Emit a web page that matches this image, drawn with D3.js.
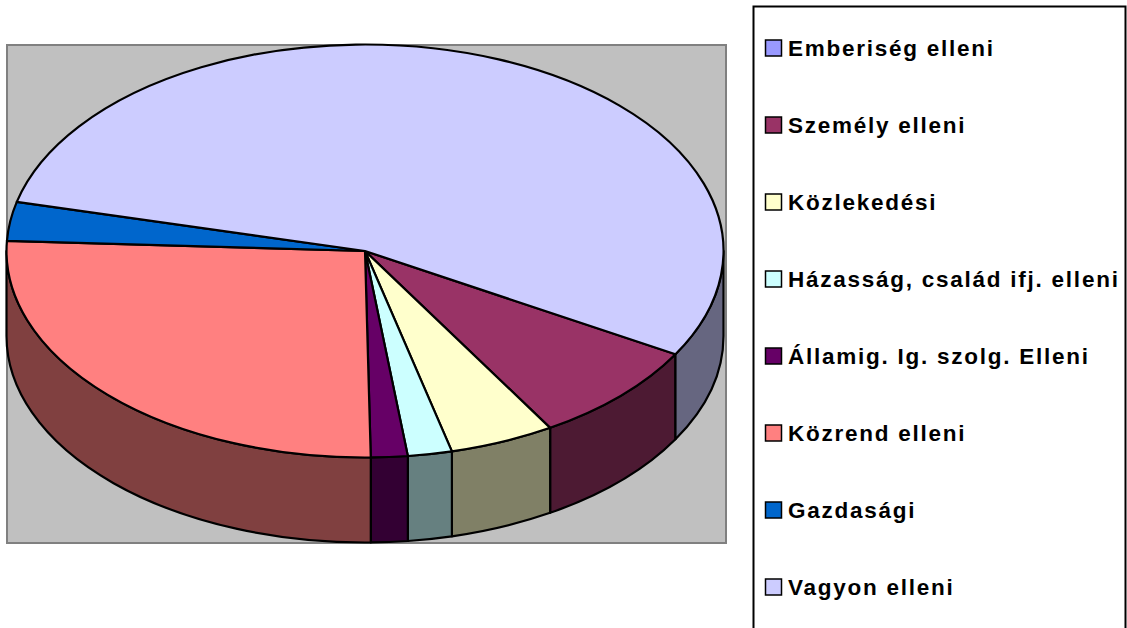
<!DOCTYPE html>
<html>
<head>
<meta charset="utf-8">
<script src="https://cdn.jsdelivr.net/npm/d3@7"></script>
<style>
html, body { margin: 0; padding: 0; background: #fff; overflow: hidden; }
svg { display: block; }
text { font-family: "Liberation Sans", Arial, sans-serif; font-weight: bold; font-size: 22.5px; letter-spacing: 1.75px; }
</style>
</head>
<body>
<script>
const categories = ["Emberiség elleni", "Személy elleni", "Közlekedési", "Házasság, család ifj. elleni",
    "Államig. Ig. szolg. Elleni", "Közrend elleni", "Gazdasági", "Vagyon elleni"];
const values = [0, 8.03, 4.74, 1.99, 1.65, 26.04, 3.04, 54.51];
const colors = ["#9999FF", "#993366", "#FFFFCC", "#CCFFFF", "#660066", "#FF8080", "#0066CC", "#CCCCFF"];

const width = 1127, height = 628;
// chart area and the flattened pie
const plot = {x: 7, y: 45, w: 719, h: 498};
const cx = 365, cy = 251, rx = 358.5, ry = 206.5, depth = 85;
const rad = Math.PI / 180;

const svg = d3.select("body").append("svg")
    .attr("width", width)
    .attr("height", height)
    .attr("viewBox", [0, 0, width, height]);

svg.append("rect")
    .attr("x", plot.x)
    .attr("y", plot.y)
    .attr("width", plot.w)
    .attr("height", plot.h)
    .attr("fill", "#C0C0C0")
    .attr("stroke", "#808080")
    .attr("stroke-width", 2);

const slices = d3.pie().sort(null).startAngle(120 * rad).endAngle(480 * rad)(values);

const px = a => cx + rx * Math.sin(a);
const py = a => cy - ry * Math.cos(a);

function halfColor(c) {
    const k = d3.rgb(c);
    return d3.rgb(k.r / 2, k.g / 2, k.b / 2).formatHex();
}

// part of a slice's outer wall seen from the front (90deg to 270deg)
function wallPath(a0, a1) {
    return `M${px(a0)},${py(a0)}A${rx},${ry} 0 0 1 ${px(a1)},${py(a1)}`
        + `L${px(a1)},${py(a1) + depth}A${rx},${ry} 0 0 0 ${px(a0)},${py(a0) + depth}Z`;
}
const walls = [];
slices.forEach((d, i) => {
    [0, 360].forEach(turn => {
        const a0 = Math.max(d.startAngle, (90 + turn) * rad);
        const a1 = Math.min(d.endAngle, (270 + turn) * rad);
        if (a1 > a0) walls.push({a0, a1, i});
    });
});

svg.append("g")
    .attr("class", "walls")
  .selectAll("path")
  .data(walls)
  .join("path")
    .attr("d", d => wallPath(d.a0, d.a1))
    .attr("fill", d => halfColor(colors[d.i]))
    .attr("stroke", "#000")
    .attr("stroke-width", 2.2)
    .attr("stroke-linejoin", "round");

const arc = d3.arc().innerRadius(0).outerRadius(rx);
svg.append("g")
    .attr("class", "tops")
    .attr("transform", `translate(${cx},${cy}) scale(1,${ry / rx})`)
  .selectAll("path")
  .data(slices)
  .join("path")
    .attr("d", arc)
    .attr("fill", (d, i) => colors[i])
    .attr("stroke", "#000")
    .attr("stroke-width", 2.2)
    .attr("stroke-linejoin", "round")
    .attr("vector-effect", "non-scaling-stroke");

// legend box runs off the bottom of the picture
svg.append("path")
    .attr("d", `M753.5,${height}V6.5H1125.5V${height}`)
    .attr("fill", "#fff")
    .attr("stroke", "#000")
    .attr("stroke-width", 2);

const rowY = d3.scalePoint().domain(categories).range([48, 587]);
const rows = svg.append("g")
    .attr("class", "legend")
  .selectAll("g")
  .data(categories)
  .join("g")
    .attr("transform", d => `translate(765,${rowY(d)})`);
rows.append("rect")
    .attr("x", 0.5)
    .attr("y", -8)
    .attr("width", 16)
    .attr("height", 16)
    .attr("fill", (d, i) => colors[i])
    .attr("stroke", "#000")
    .attr("stroke-width", 1.5);
rows.append("text")
    .attr("x", 23)
    .attr("y", 8)
    .attr("fill", "#000")
    .text(d => d);
</script>
</body>
</html>
